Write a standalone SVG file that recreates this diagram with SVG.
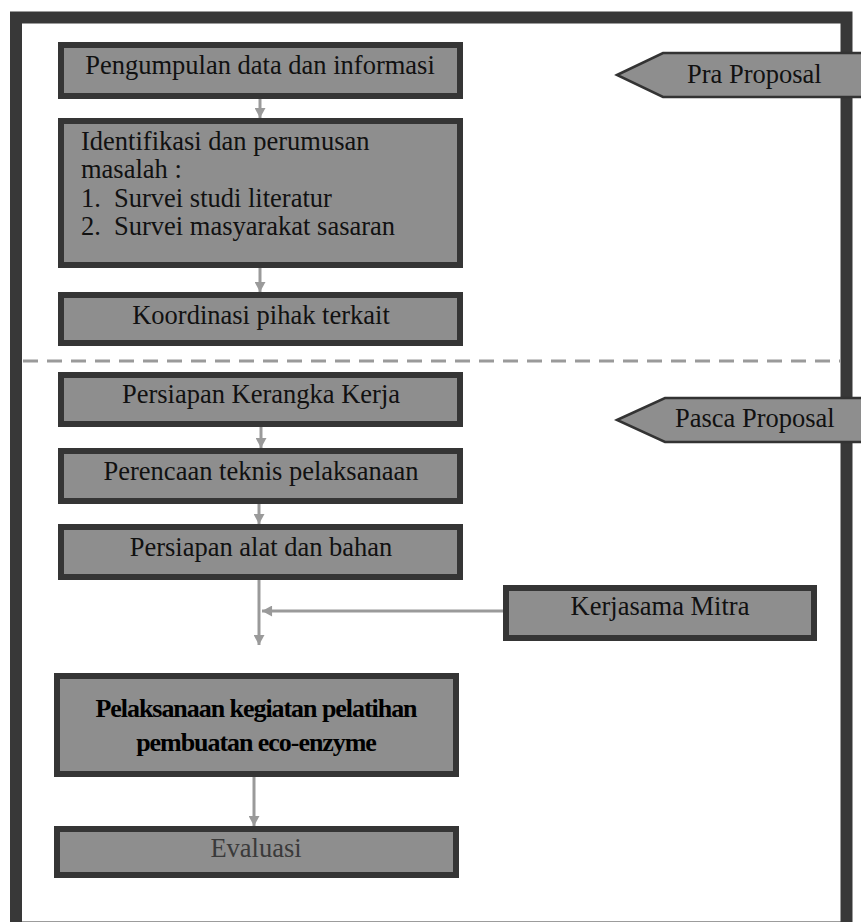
<svg xmlns="http://www.w3.org/2000/svg" width="861" height="922" viewBox="0 0 861 922">
<style>
.box{fill:#8e8e8e;stroke:#353535;stroke-width:6}
.tag{fill:#8e8e8e;stroke:#333;stroke-width:2.5}
.t{font-family:"Liberation Serif",serif;font-size:26.5px;fill:#111}
.c{text-anchor:middle}
.b{font-weight:bold;font-size:26px;letter-spacing:-1.05px;fill:#000}
.con{stroke:#9a9a9a;stroke-width:3;fill:none}
</style>
<defs>
<marker id="ah" markerUnits="userSpaceOnUse" markerWidth="13" markerHeight="11" refX="11" refY="6" orient="auto" viewBox="0 0 13 12">
<path d="M0,0 L11,6 L0,12 Z" fill="#9a9a9a"/>
</marker>
</defs>
<rect width="861" height="922" fill="#fff"/>
<g id="frame">
<rect x="16" y="17.5" width="830.5" height="910" fill="none" stroke="#383838" stroke-width="12"/>
<line x1="23" y1="361" x2="840" y2="361" stroke="#9a9a9a" stroke-width="3" stroke-dasharray="15 9"/>
</g>
<g id="connectors">
<line class="con" x1="260" y1="99" x2="260" y2="118" marker-end="url(#ah)"/>
<line class="con" x1="260" y1="268" x2="260" y2="292" marker-end="url(#ah)"/>
<line class="con" x1="261" y1="427" x2="261" y2="448" marker-end="url(#ah)"/>
<line class="con" x1="259" y1="504" x2="259" y2="524" marker-end="url(#ah)"/>
<line class="con" x1="259" y1="580" x2="259" y2="645" marker-end="url(#ah)"/>
<line class="con" x1="503" y1="611" x2="262" y2="611" stroke-width="2.5" marker-end="url(#ah)"/>
<line class="con" x1="254" y1="777" x2="254" y2="826" marker-end="url(#ah)"/>
</g>
<g id="n1"><rect class="box" x="61" y="45" width="399" height="51"/><text class="t c" x="260" y="74">Pengumpulan data dan informasi</text></g>
<g id="n2"><rect class="box" x="61" y="121" width="399" height="144"/>
<text class="t" x="81" y="150">Identifikasi dan perumusan</text>
<text class="t" x="81" y="178">masalah :</text>
<text class="t" x="81" y="207">1.</text><text class="t" x="114" y="207">Survei studi literatur</text>
<text class="t" x="81" y="235">2.</text><text class="t" x="114" y="235">Survei masyarakat sasaran</text>
</g>
<g id="n3"><rect class="box" x="61" y="295" width="399" height="48"/><text class="t c" x="261" y="324">Koordinasi pihak terkait</text></g>
<g id="n4"><rect class="box" x="61" y="375" width="399" height="49"/><text class="t c" x="261" y="403">Persiapan Kerangka Kerja</text></g>
<g id="n5"><rect class="box" x="61" y="451" width="399" height="50"/><text class="t c" x="261" y="480">Perencaan teknis pelaksanaan</text></g>
<g id="n6"><rect class="box" x="61" y="527" width="399" height="50"/><text class="t c" x="261" y="556">Persiapan alat dan bahan</text></g>
<g id="n7"><rect class="box" x="506" y="588" width="308" height="50"/><text class="t c" x="660" y="615">Kerjasama Mitra</text></g>
<g id="n8"><rect class="box" x="57" y="676" width="399" height="98"/>
<text class="t c b" x="256" y="717">Pelaksanaan kegiatan pelatihan</text>
<text class="t c b" x="256" y="751">pembuatan eco-enzyme</text>
</g>
<g id="n9"><rect class="box" x="57" y="829" width="399" height="46"/><text class="t c" x="256" y="857" fill="#3a3a3a" style="fill:#3a3a3a">Evaluasi</text></g>
<g id="tag1"><polygon class="tag" points="617,75 663,53 870,53 870,97 663,97"/><text class="t" x="687" y="83">Pra Proposal</text></g>
<g id="tag2"><polygon class="tag" points="617,420 665,398 870,398 870,442 665,442"/><text class="t" x="675" y="427">Pasca Proposal</text></g>
</svg>
